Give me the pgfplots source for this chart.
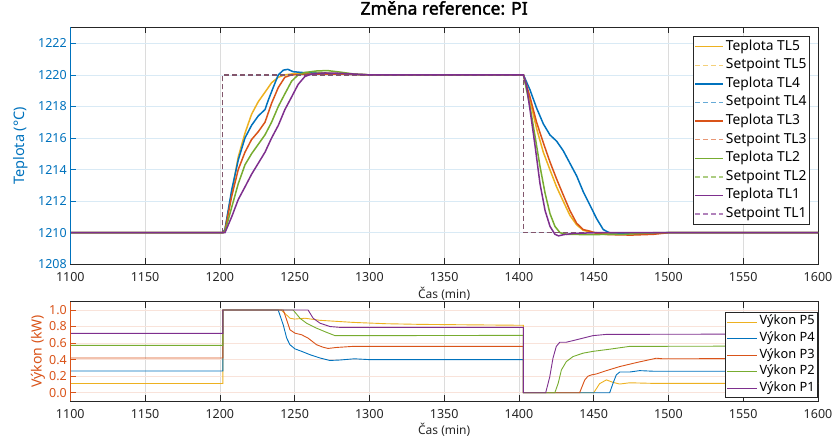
\documentclass[border=0pt]{standalone}
\usepackage{pgfplots}
\pgfplotsset{compat=1.18}
\usepackage{fontspec}
\setmainfont{Noto Sans}
\newfontfamily\titlefont{Noto Sans}[FakeBold=2]

\definecolor{mblue}{HTML}{0072BD}
\definecolor{morange}{HTML}{D95319}
\definecolor{myellow}{HTML}{EDB120}
\definecolor{mpurple}{HTML}{7E2F8E}
\definecolor{mgreen}{HTML}{77AC30}
\definecolor{axgray}{HTML}{262626}
\definecolor{gridgray}{HTML}{DCDCDC}
\definecolor{gridblue}{HTML}{D9EAF5}
\definecolor{gridorange}{HTML}{F9E3DA}

\pgfplotsset{
  matlab/.style={
    scale only axis, width=747.7pt,
    xmin=1100, xmax=1600, xtick={1100,1150,...,1600},
    axis line style={axgray, line width=0.6pt},
    tick align=inside, xtick pos=both, ytick pos=left,
    major tick length=6pt,
    x tick style={axgray, line width=0.6pt},
    grid=major, x grid style={gridgray, line width=0.6pt},
    tick label style={font=\fontsize{12.5}{14}\selectfont},
    xticklabel style={axgray, yshift=-4.5pt},
    /pgf/number format/assume math mode=true,
    /pgf/number format/1000 sep={},
    legend cell align=left,
  },
}

\begin{document}
\begin{tikzpicture}
\useasboundingbox (0,0) rectangle (837pt,441pt);

% ---------------- temperatures ----------------
\begin{axis}[matlab,
  at={(70.3pt,176.7pt)}, anchor=south west, height=236.8pt,
  ymin=1208, ymax=1223, ytick={1208,1210,...,1222},
  y grid style={gridblue, line width=0.6pt},
  y tick style={mblue, line width=0.6pt},
  yticklabel style={mblue},
  ylabel={Teplota (°C)},
  ylabel style={mblue, font=\fontsize{14.5}{16}\selectfont,
    at={(axis description cs:-0.0659,0.5)}, anchor=center, rotate=0},
  xlabel={Čas (min)},
  xlabel style={axgray, font=\fontsize{12}{14}\selectfont,
    at={(axis description cs:0.5,-0.1254)}, anchor=center},
  title={{\titlefont\fontsize{17.5}{20}\selectfont Změna reference: PI}},
  title style={at={(axis description cs:0.5,1.057)}, anchor=center},
  legend image code/.code={\draw[#1] (0pt,0pt) -- (28pt,0pt);},
  legend style={at={(1,1)}, anchor=north east, xshift=-8pt, yshift=-8.5pt,
    draw=axgray, line width=0.8pt, fill=white, inner sep=1pt,
    font=\fontsize{13.8}{16}\selectfont,
    nodes={inner xsep=2pt, inner ysep=2.8pt, text height=10pt, text depth=3pt}},
  extra description/.code={
    \draw[mblue, line width=0.6pt] (axis description cs:0,0) -- (axis description cs:0,1);},
]
% TL5
\addplot[myellow, line width=1.5pt] coordinates {
(1100,1210)(1202,1210)(1203.4,1210.2)(1207.9,1212.5)(1212.3,1214.8)(1216.8,1216.3)
(1221.2,1217.5)(1225.7,1218.3)(1230.2,1218.9)(1234.6,1219.5)(1239.1,1219.85)(1243.5,1220.0)
(1250,1220.08)(1260,1220.12)(1270,1220.12)(1280,1220.06)(1300,1220)(1403,1220)
(1407.4,1218.4)(1411.8,1216.6)(1416.3,1215.1)(1420.7,1214.0)(1425.2,1212.9)(1429.6,1212.0)
(1434.1,1211.1)(1438.6,1210.5)(1443,1210.15)(1447.5,1210.05)(1452,1210.0)(1460,1209.95)
(1480,1209.97)(1500,1210)(1600,1210)};
\addlegendentry{Teplota TL5}
\addplot[myellow, line width=1.3pt, draw opacity=0.6, dash pattern=on 5pt off 3pt] coordinates {
(1100,1210)(1202,1210)(1202,1220)(1403,1220)(1403,1210)(1600,1210)};
\addlegendentry{Setpoint TL5}
% TL4
\addplot[mblue, line width=1.5pt] coordinates {
(1100,1210)(1202,1210)(1203.4,1210.2)(1207.9,1212.7)(1212.3,1214.6)(1216.8,1216.0)
(1221.2,1216.8)(1225.7,1217.4)(1230.2,1217.8)(1232.4,1218.4)(1235.7,1219.2)(1239.1,1220.0)
(1242.5,1220.3)(1245.5,1220.35)(1249,1220.2)(1255,1220.15)(1265,1220.1)(1280,1220.05)
(1300,1220)(1403,1220)
(1407.4,1219.05)(1411.8,1217.9)(1416.3,1216.9)(1420.7,1216.2)(1425.2,1215.8)(1429.6,1215.2)
(1434.1,1214.4)(1438.6,1213.6)(1443,1212.6)(1447.5,1211.75)(1451.9,1210.9)(1456.4,1210.2)
(1460.5,1210)(1470,1209.97)(1500,1210)(1600,1210)};
\addlegendentry{Teplota TL4}
\addplot[mblue, line width=1.3pt, draw opacity=0.6, dash pattern=on 5pt off 3pt] coordinates {
(1100,1210)(1202,1210)(1202,1220)(1403,1220)(1403,1210)(1600,1210)};
\addlegendentry{Setpoint TL4}
% TL3
\addplot[morange, line width=1.5pt] coordinates {
(1100,1210)(1202,1210)(1203.4,1210.1)(1207.9,1212.3)(1212.3,1214.0)(1216.8,1215.1)
(1221.2,1215.9)(1225.7,1216.4)(1230.2,1217.0)(1234.6,1218.2)(1239.1,1219.2)(1243.5,1219.85)
(1248,1220.0)(1260,1220.05)(1280,1220.05)(1300,1220)(1403,1220)
(1407.4,1218.6)(1411.8,1217.0)(1416.3,1215.7)(1420.7,1214.5)(1425.2,1213.4)(1429.6,1212.4)
(1434.1,1211.4)(1438.6,1210.6)(1443,1210.2)(1447.5,1210.1)(1451.9,1209.95)(1460,1209.88)
(1475,1209.85)(1490,1209.9)(1500,1210)(1600,1210)};
\addlegendentry{Teplota TL3}
\addplot[morange, line width=1.3pt, draw opacity=0.6, dash pattern=on 5pt off 3pt] coordinates {
(1100,1210)(1202,1210)(1202,1220)(1403,1220)(1403,1210)(1600,1210)};
\addlegendentry{Setpoint TL3}
% TL2
\addplot[mgreen, line width=1.5pt] coordinates {
(1100,1210)(1202,1210)(1203.4,1210.05)(1207.9,1211.6)(1212.3,1213.1)(1216.8,1214.3)
(1221.2,1215.0)(1225.7,1215.6)(1230.2,1216.2)(1234.6,1217.0)(1239.1,1218.0)(1243.5,1218.8)
(1248,1219.6)(1252.4,1220.0)(1256.9,1220.15)(1265,1220.25)(1272,1220.27)(1280,1220.18)
(1290,1220.05)(1300,1220)(1403,1220)
(1407.4,1218.0)(1410.8,1216.1)(1414.1,1214.2)(1417.5,1212.5)(1420.8,1211.2)(1424.1,1210.4)
(1427.5,1210.0)(1432,1209.9)(1445,1209.88)(1470,1209.9)(1490,1210)(1600,1210)};
\addlegendentry{Teplota TL2}
\addplot[mgreen, line width=1.3pt, draw opacity=0.6, dash pattern=on 5pt off 3pt] coordinates {
(1100,1210)(1202,1210)(1202,1220)(1403,1220)(1403,1210)(1600,1210)};
\addlegendentry{Setpoint TL2}
% TL1
\addplot[mpurple, line width=1.5pt] coordinates {
(1100,1210)(1203.4,1210)(1207.9,1211.0)(1212.3,1212.1)(1216.8,1212.9)(1221.2,1213.7)
(1225.7,1214.4)(1230.2,1215.1)(1234.6,1216.0)(1239.1,1216.8)(1243.5,1217.8)(1248,1218.6)
(1252.4,1219.4)(1256.9,1219.9)(1261.4,1220.05)(1270,1220.12)(1280,1220.1)(1300,1220)(1403,1220)
(1405.1,1219.3)(1407.4,1217.8)(1410.8,1215.5)(1414.1,1213.1)(1417.5,1211.4)(1420.8,1210.4)
(1424.1,1209.9)(1426.5,1209.8)(1430,1209.88)(1436,1209.95)(1450,1210)(1600,1210)};
\addlegendentry{Teplota TL1}
\addplot[mpurple, line width=1.3pt, draw opacity=0.6, dash pattern=on 5pt off 3pt] coordinates {
(1100,1210)(1202,1210)(1202,1220)(1403,1220)(1403,1210)(1600,1210)};
\addlegendentry{Setpoint TL1}
\end{axis}

% ---------------- heating power ----------------
\begin{axis}[matlab,
  at={(70.3pt,40pt)}, anchor=south west, height=99.3pt,
  ymin=-0.1, ymax=1.1, ytick={0,0.2,0.4,0.6,0.8,1},
  y grid style={gridorange, line width=0.6pt},
  y tick style={morange, line width=0.6pt},
  yticklabel style={morange, /pgf/number format/fixed,
    /pgf/number format/fixed zerofill, /pgf/number format/precision=1},
  ylabel={Výkon (kW)},
  ylabel style={morange, font=\fontsize{14}{16}\selectfont,
    at={(axis description cs:-0.0432,0.5)}, anchor=center, rotate=0},
  xlabel={Čas (min)},
  xlabel style={axgray, font=\fontsize{12}{14}\selectfont,
    at={(axis description cs:0.5,-0.292)}, anchor=center},
  legend image code/.code={\draw[#1] (0pt,0pt) -- (30pt,0pt);},
  legend style={at={(1,1)}, anchor=north east, xshift=0pt, yshift=-10.6pt,
    draw=axgray, line width=0.8pt, fill=white, inner sep=1pt,
    font=\fontsize{12.8}{14}\selectfont,
    nodes={inner xsep=2pt, inner ysep=2.3pt, text height=9pt, text depth=3pt}},
  extra description/.code={
    \draw[morange, line width=0.6pt] (axis description cs:0,0) -- (axis description cs:0,1);},
]
\addplot[myellow, line width=0.9pt] coordinates {
(1100,0.112)(1202,0.112)(1202,1)(1241,1)(1247,0.90)(1250,0.89)(1257,0.90)(1267,0.875)
(1289,0.85)(1311,0.834)(1334,0.826)(1370,0.82)(1403,0.815)(1403,0)(1450,0)(1454,0.11)
(1458.5,0.155)(1462.9,0.125)(1467.4,0.105)(1474,0.12)(1490,0.113)(1600,0.113)};
\addlegendentry{Výkon P5}
\addplot[mblue, line width=0.9pt] coordinates {
(1100,0.262)(1202,0.262)(1202,1)(1239,1)(1242.4,0.82)(1244.7,0.66)(1246.9,0.58)(1250.2,0.53)
(1254.7,0.50)(1260.2,0.46)(1266.9,0.42)(1273.6,0.39)(1280,0.395)(1290,0.41)(1300,0.40)
(1403,0.40)(1403,0)(1460.7,0)(1462.9,0.113)(1465.1,0.215)(1467.4,0.25)(1474,0.25)
(1480.7,0.267)(1489.6,0.26)(1600,0.26)};
\addlegendentry{Výkon P4}
\addplot[morange, line width=0.9pt] coordinates {
(1100,0.42)(1202,0.42)(1202,1)(1242.4,1)(1244.7,0.88)(1246.9,0.76)(1250.2,0.72)(1254.7,0.70)
(1259,0.66)(1264.7,0.58)(1269,0.55)(1272.4,0.535)(1278,0.547)(1289,0.56)(1403,0.56)(1403,0)
(1440.6,0)(1444,0.154)(1446.2,0.20)(1448.4,0.215)(1451.8,0.227)(1458.5,0.267)(1467.4,0.316)
(1478.5,0.364)(1491.9,0.417)(1496.3,0.41)(1600,0.415)};
\addlegendentry{Výkon P3}
\addplot[mgreen, line width=0.9pt] coordinates {
(1100,0.572)(1202,0.572)(1202,1)(1249,1)(1253.6,0.90)(1258,0.84)(1264.7,0.78)(1271.3,0.73)
(1277,0.69)(1300,0.69)(1403,0.693)(1403,0)(1424,0)(1426.2,0.11)(1428.4,0.275)(1431.7,0.376)
(1436.2,0.437)(1442.9,0.478)(1449.6,0.50)(1460.7,0.526)(1474,0.56)(1600,0.565)};
\addlegendentry{Výkon P2}
\addplot[mpurple, line width=0.9pt] coordinates {
(1100,0.717)(1202,0.717)(1202,1)(1259,1)(1262.4,0.90)(1267,0.84)(1273.6,0.80)(1280.2,0.79)
(1403,0.79)(1403,0)(1417.9,0)(1420.6,0.19)(1422.8,0.42)(1425,0.56)(1427.3,0.61)(1431.7,0.61)
(1436.2,0.63)(1442.9,0.66)(1449.6,0.69)(1458.5,0.705)(1600,0.71)};
\addlegendentry{Výkon P1}
\end{axis}
\end{tikzpicture}
\end{document}
